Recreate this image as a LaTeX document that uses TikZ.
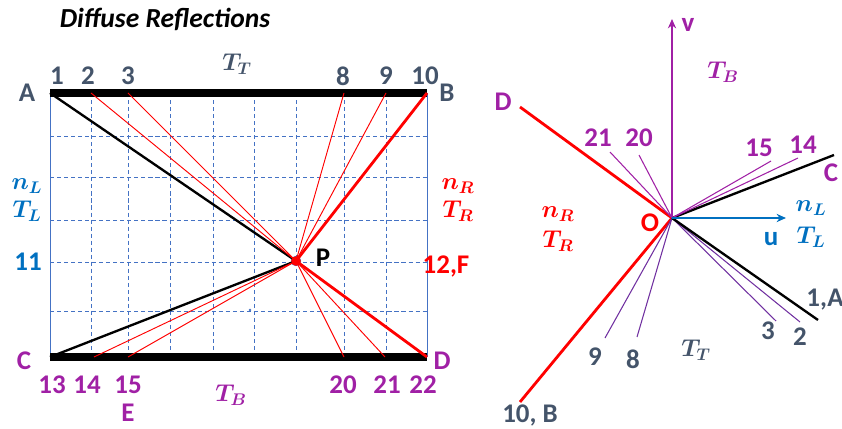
\documentclass[tikz,border=0pt]{standalone}
\usepackage{fontspec}
\setmainfont{Carlito}
\usepackage{bm}
\usetikzlibrary{arrows.meta}
\definecolor{slate}{HTML}{44546A}
\definecolor{lblue}{HTML}{0070C0}
\definecolor{gblue}{HTML}{4472C4}
\definecolor{magen}{RGB}{160,32,165}
\definecolor{violet}{HTML}{7030A0}

\begin{document}
\begin{tikzpicture}[
    x=0.03cm, y=-0.03cm,
    lbl/.style={font=\fontsize{23}{23}\selectfont\bfseries, inner sep=0pt},
    sym/.style={font=\fontsize{22}{22}\selectfont, inner sep=0pt},
    gridline/.style={gblue, line width=0.8pt, dash pattern=on 3.5pt off 2.5pt},
    wall/.style={line width=6pt},
    thin ray/.style={red, line width=0.8pt},
    thick ray/.style={red, line width=2.4pt},
    black ray/.style={black, line width=2pt},
    fan/.style={line width=0.9pt},
    >={Stealth[length=8pt, width=7pt]}
]
    \useasboundingbox (0,0) rectangle (842,429);

    % 标题
    \node[lbl, font=\fontsize{23.5}{23.5}\selectfont\bfseries\itshape] (title) at (165,19) {Diffuse Reflections};

    % --- 左图: 角点与壁面上的点 ---
    \coordinate (A) at (50,93);
    \coordinate (B) at (427,93);
    \coordinate (C) at (50,357);
    \coordinate (D) at (427,357);
    \coordinate (t2) at (91,93);
    \coordinate (t3) at (128,93);
    \coordinate (t8) at (344,93);
    \coordinate (t9) at (386,93);
    \coordinate (b14) at (94,357);
    \coordinate (b15) at (128,357);
    \coordinate (b20) at (344,357);
    \coordinate (b21) at (385,357);

    % 网格
    \foreach \x in {91,128,170,213,254,296,344,386}
        \draw[gridline] (\x,93) -- (\x,357);
    \foreach \y in {136,177,220,262,311}
        \draw[gridline] (50,\y) -- (427,\y);
    \draw[gblue, line width=0.8pt] (A) -- (C);
    \draw[gblue, line width=0.8pt] (B) -- (D);
    \fill[gblue] (250,310) circle[radius=1.3];

    % 上下壁面
    \draw[wall] (A) -- (B);
    \draw[wall] (C) -- (D);

    % --- 从 P 出发的射线 ---
    \node[circle, fill=red, draw=gblue, line width=0.3pt, inner sep=0pt, minimum size=8.5pt] (P) at (296,261) {};
    \draw[black ray] (P.center) -- (A);
    \draw[black ray] (P.center) -- (C);
    \foreach \e in {t2,t3,t8,t9,b14,b15,b20,b21}
        \draw[thin ray] (P.center) -- (\e);
    \draw[thick ray] (P.center) -- (B);
    \draw[thick ray] (P.center) -- (D);
    \node[circle, fill=red, inner sep=0pt, minimum size=8pt] (Pdot) at (P) {};

    % --- 左图标签 ---
    \node[lbl, slate] (lA) at (27,93) {A};
    \node[lbl, slate] (lB) at (447,93) {B};
    \node[lbl, magen] (lC) at (24,361) {C};
    \node[lbl, magen] (lD) at (442,361) {D};
    \foreach \n/\x in {1/57,2/88,3/128,8/343,9/386,10/425}
        \node[lbl, slate] (top\n) at (\x,76) {\n};
    \foreach \n/\x in {13/52,14/87,15/128,20/343,21/387,22/423}
        \node[lbl, magen] (bot\n) at (\x,385) {\n};
    \node[lbl, magen] (lE) at (128,413) {E};
    \node[sym, slate] (TT) at (237,64) {$\bm{T_T}$};
    \node[sym, magen] (TB) at (231,395) {$\bm{T_B}$};
    \node[sym, lblue] (nL) at (27,186) {$\bm{n_L}$};
    \node[sym, lblue] (TL) at (27,211) {$\bm{T_L}$};
    \node[lbl, lblue] (l11) at (28,262) {11};
    \node[sym, red] (nR) at (458,186) {$\bm{n_R}$};
    \node[sym, red] (TR) at (458,211) {$\bm{T_R}$};
    \node[lbl, red] (l12) at (446,266) {12,F};
    \node[lbl, black] (lP) at (323,258) {P};

    % --- 右图: 原点与方向 ---
    \coordinate (O) at (672,218);
    \coordinate (Dr) at (520,107);
    \coordinate (Br) at (520,402);
    \coordinate (Cr) at (834,155);
    \coordinate (Ar) at (818,320);
    \coordinate (r21) at (610,152);
    \coordinate (r20) at (639,155);
    \coordinate (r15) at (771,161);
    \coordinate (r14) at (798,158);
    \coordinate (r3) at (776,321);
    \coordinate (r2) at (800,322);
    \coordinate (r9) at (605,338);
    \coordinate (r8) at (637,337);
    \coordinate (vtip) at (672,19);
    \coordinate (utip) at (786,218);

    \draw[thick ray] (O) -- (Dr);
    \draw[thick ray] (O) -- (Br);
    \foreach \e in {r9,r8,r3,r2}
        \draw[fan, violet] (O) -- (\e);
    \draw[black ray] (O) -- (Cr);
    \draw[black ray] (O) -- (Ar);
    \foreach \e in {r21,r20,r15,r14}
        \draw[fan, magen] (O) -- (\e);
    \draw[->, magen, line width=2pt] (O) -- (vtip);
    \draw[->, lblue, line width=2pt] (O) -- (utip);

    % --- 右图标签 ---
    \node[lbl, magen] (lv) at (688,25) {v};
    \node[lbl, lblue] (lu) at (771,239) {u};
    \node[lbl, red] (lO) at (650,223) {O};
    \node[lbl, magen] (lDr) at (503,102) {D};
    \node[lbl, magen] (lCr) at (831,173) {C};
    \node[lbl, slate] (lAr) at (825,300) {1,A};
    \node[lbl, slate] (lBr) at (530,415) {10, B};
    \foreach \n/\x/\y in {21/598/138,20/639/138,15/759/148,14/803/145}
        \node[lbl, magen] (rn\n) at (\x,\y) {\n};
    \foreach \n/\x/\y in {3/768/331,2/800/337,9/595/357,8/633/359}
        \node[lbl, slate] (rn\n) at (\x,\y) {\n};
    \node[sym, magen] (TBr) at (723,72) {$\bm{T_B}$};
    \node[sym, slate] (TTr) at (696,350) {$\bm{T_T}$};
    \node[sym, lblue] (nLr) at (811,208) {$\bm{n_L}$};
    \node[sym, lblue] (TLr) at (811,237) {$\bm{T_L}$};
    \node[sym, red] (nRr) at (558,214) {$\bm{n_R}$};
    \node[sym, red] (TRr) at (558,241) {$\bm{T_R}$};

\end{tikzpicture}
\end{document}
